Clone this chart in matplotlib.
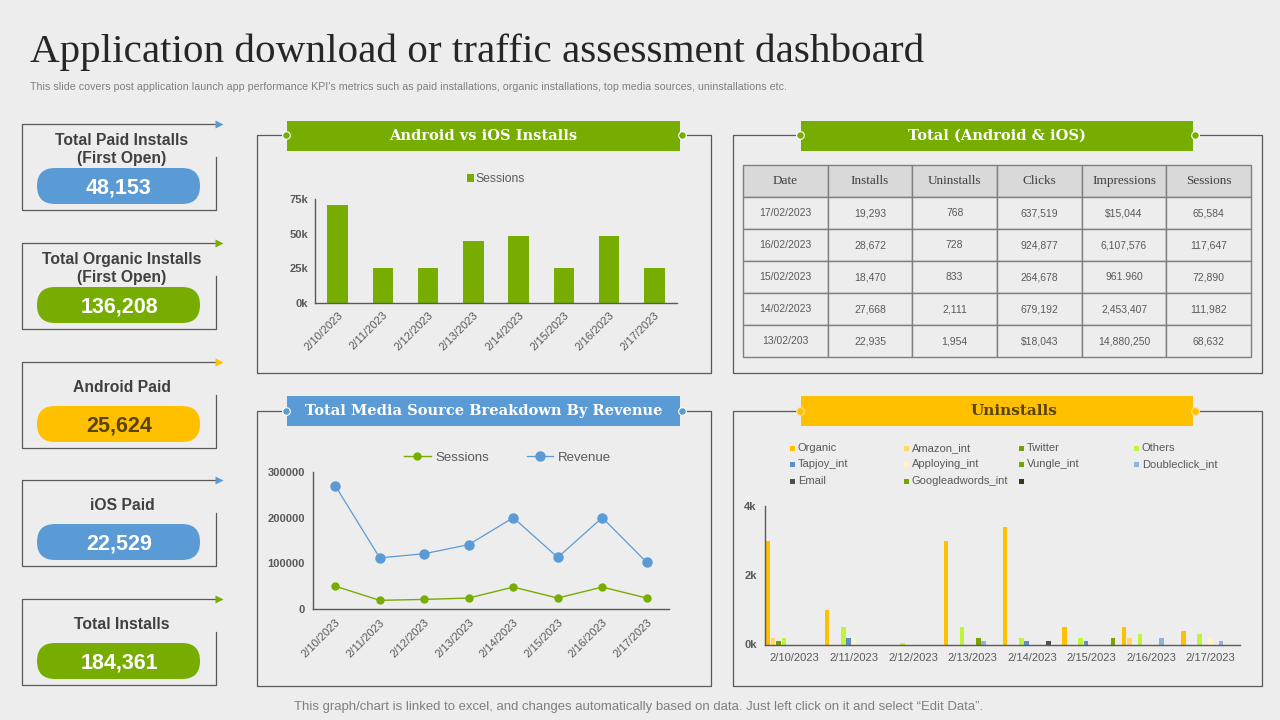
#!/usr/local/bin
# Application download / traffic dashboard slide, laid out in pixel positions

import matplotlib
matplotlib.use('Agg')
import matplotlib.pyplot as plt
from matplotlib.patches import FancyBboxPatch, Rectangle
import numpy as np

# Data
dates = ['2/10/2023', '2/11/2023', '2/12/2023', '2/13/2023', '2/14/2023', '2/15/2023', '2/16/2023', '2/17/2023']

installs_sessions = [71000, 25000, 25000, 45000, 48000, 25000, 48000, 25000]

line_sessions = [50000, 19000, 21000, 24000, 48000, 24000, 48000, 24000]
line_revenue = [270000, 112000, 121000, 141000, 200000, 113000, 200000, 102000]

organic = [3000, 1000, 0, 3000, 3400, 500, 500, 400]
amazon_int = [200, 0, 0, 0, 0, 0, 200, 0]
twitter = [100, 0, 0, 0, 0, 0, 0, 0]
others = [200, 500, 50, 500, 200, 200, 300, 300]
tapjoy_int = [0, 200, 0, 0, 100, 100, 0, 0]
apploying_int = [0, 200, 0, 0, 0, 0, 0, 200]
vungle_int = [0, 0, 0, 200, 0, 0, 0, 0]
doubleclick_int = [0, 0, 0, 100, 0, 0, 200, 100]
email = [0, 0, 0, 0, 100, 0, 0, 0]
googleadwords_int = [0, 0, 0, 0, 0, 200, 0, 0]
unnamed = [0, 0, 0, 0, 0, 0, 0, 0]

table_header = ['Date', 'Installs', 'Uninstalls', 'Clicks', 'Impressions', 'Sessions']
table_rows = [
    ['17/02/2023', '19,293', '768', '637,519', '$15,044', '65,584'],
    ['16/02/2023', '28,672', '728', '924,877', '6,107,576', '117,647'],
    ['15/02/2023', '18,470', '833', '264,678', '961.960', '72,890'],
    ['14/02/2023', '27,668', '2,111', '679,192', '2,453,407', '111,982'],
    ['13/02/203', '22,935', '1,954', '$18,043', '14,880,250', '68,632'],
]

kpi_labels = ['Total Paid Installs\n(First Open)', 'Total Organic Installs\n(First Open)', 'Android Paid', 'iOS Paid', 'Total Installs']
kpi_values = ['48,153', '136,208', '25,624', '22,529', '184,361']

# Colours and fonts
W, H = 1280, 720
BG = '#EDEDED'
GREEN = '#76AD00'
BLUE = '#5B9BD5'
YELLOW = '#FFC000'
DARK = '#595959'
TEXT = '#404040'
SERIF = 'DejaVu Serif'
SANS = 'Liberation Sans'

plt.rcParams['font.family'] = SANS

uninstall_series = [
    ('Organic', organic, '#FFC000'),
    ('Amazon_int', amazon_int, '#FFD966'),
    ('Twitter', twitter, '#6F9E0E'),
    ('Others', others, '#BFF43C'),
    ('Tapjoy_int', tapjoy_int, '#5B8FC5'),
    ('Apploying_int', apploying_int, '#FFF2CC'),
    ('Vungle_int', vungle_int, '#76A500'),
    ('Doubleclick_int', doubleclick_int, '#8FB4DC'),
    ('Email', email, '#505050'),
    ('Googleadwords_int', googleadwords_int, '#76A500'),
    ('', unnamed, '#2E3A1E'),
]

fig = plt.figure(figsize=(W / 100, H / 100), dpi=100, facecolor=BG)

# Overlay in pixel coordinates for the slide furniture
bg = fig.add_axes([0, 0, 1, 1], zorder=0)
bg.set_xlim(0, W)
bg.set_ylim(H, 0)
bg.axis('off')


# Make a chart axes from pixel edges
def px_axes(x0, y0, x1, y1):
    ax = fig.add_axes([x0 / W, 1 - y1 / H, (x1 - x0) / W, (y1 - y0) / H], zorder=2)
    ax.patch.set_alpha(0)
    for side in ['top', 'right']:
        ax.spines[side].set_visible(False)
    for side in ['left', 'bottom']:
        ax.spines[side].set_color(DARK)
        ax.spines[side].set_linewidth(1)
    return ax


# Frame with a banner breaking into the top edge
def panel(x0, y0, x1, y1, bx0, bx1, banner_top, color, title, title_color='white', size=10.5, title_x=None):
    if title_x is None:
        title_x = (bx0 + bx1) / 2
    bg.plot([bx0 - 4, x0, x0, x1, x1, bx1 + 4], [y0, y0, y1, y1, y0, y0], color=DARK, lw=0.9, zorder=1)
    bg.add_patch(Rectangle((bx0, banner_top), bx1 - bx0, 30, facecolor=color, edgecolor='none', zorder=2))
    for cx in [bx0 - 1, bx1 + 2]:
        bg.plot([cx], [y0], marker='o', ms=5.5, mfc=color, mec='white' if color != YELLOW else '#FFE08A', mew=0.8, zorder=3)
    bg.text(title_x, banner_top + 13.5, title, color=title_color, fontsize=size, fontweight='bold',
            family=SERIF, ha='center', va='center_baseline', zorder=4)


# Heading
bg.text(30, 52, 'Application download or traffic assessment dashboard', fontsize=29.6,
        family='Liberation Serif', color='#262626', ha='left', va='center')
bg.text(30, 87, "This slide covers post application launch app performance KPI's metrics such as paid installations, "
        "organic installations, top media sources, uninstallations etc.", fontsize=7.68, color='#7F7F7F',
        ha='left', va='center')
bg.text(639, 707, 'This graph/chart is linked to excel, and changes automatically based on data. '
        'Just left click on it and select \u201cEdit Data\u201d.', fontsize=9.45, color='#7F7F7F',
        ha='center', va='center')

# KPI cards
kpi_tops = [124, 243, 362, 480, 599]
kpi_colors = [BLUE, GREEN, YELLOW, BLUE, GREEN]
kpi_text = ['white', 'white', '#5A4300', 'white', 'white']
for i in range(5):
    top = kpi_tops[i]
    bottom = top + 86
    bg.plot([216, 216, 22, 22, 216], [top + 33, bottom, bottom, top, top], color=DARK, lw=0.9, zorder=1)
    bg.plot([219], [top], marker='>', ms=6, color=kpi_colors[i], mec='none', zorder=2)
    pill = FancyBboxPatch((37 + 18, top + 44 + 18), 163 - 36, 0, boxstyle='round,pad=18,rounding_size=18',
                          facecolor=kpi_colors[i], edgecolor='none', zorder=3)
    bg.add_patch(pill)
    bg.text(122, top + 25.5, kpi_labels[i], fontsize=11.3, fontweight='bold', color=TEXT, ha='center',
            va='center', linespacing=1.2, zorder=2)
    bg.text(119, top + 64, kpi_values[i], fontsize=15.5, fontweight='bold', color=kpi_text[i],
            ha='center', va='center', zorder=4)

# Panels
panel(257, 135, 711, 373, 287, 680, 121, GREEN, 'Android vs iOS Installs')
panel(733, 135, 1262, 373, 801, 1193, 121, GREEN, 'Total (Android & iOS)')
panel(257, 411, 711, 686, 287, 680, 396, BLUE, 'Total Media Source Breakdown By Revenue', size=10.55)
panel(733, 411, 1262, 686, 801, 1193, 396, YELLOW, 'Uninstalls', title_color='#5A4300', size=11, title_x=1014)

# Android vs iOS bars
ax1 = px_axes(315, 199, 677, 303)
x = np.arange(len(dates))
ax1.bar(x, installs_sessions, width=0.45, color=GREEN, label='Sessions')
ax1.set_xlim(-0.5, 7.5)
ax1.set_ylim(0, 75000)
ax1.set_yticks([0, 25000, 50000, 75000])
ax1.set_yticklabels(['0k', '25k', '50k', '75k'], fontsize=8, fontweight='bold', color=DARK)
ax1.set_xticks(x)
ax1.set_xticklabels(dates, rotation=45, ha='right', rotation_mode='anchor', fontsize=8, color=DARK)
ax1.tick_params(length=0, pad=5)
ax1.legend(loc='center', bbox_to_anchor=(0.5, 1.19), frameon=False, fontsize=8.7, labelcolor=DARK,
           handlelength=0.6, handleheight=0.6, handletextpad=0.1)

# Total table
tb_ax = fig.add_axes([743 / W, 1 - 357 / H, 508 / W, 192 / H], zorder=2)
tb_ax.axis('off')
tb = tb_ax.table(cellText=[table_header] + table_rows, bbox=[0, 0, 1, 1], cellLoc='center')
tb.auto_set_font_size(False)
for (r, c), cell in tb.get_celld().items():
    cell.set_edgecolor('#7F7F7F')
    cell.set_linewidth(1.0)
    if r == 0:
        cell.set_facecolor('#D9D9D9')
        cell.get_text().set_family('Liberation Serif')
        cell.get_text().set_fontsize(9.5)
        cell.get_text().set_color(TEXT)
    else:
        cell.set_facecolor(BG)
        cell.get_text().set_fontsize(7.5)
        cell.get_text().set_color(DARK)

# Media source lines
ax2 = px_axes(313, 472, 669, 609)
ax2.plot(x, line_sessions, color=GREEN, lw=1, marker='o', ms=5, label='Sessions')
ax2.plot(x, line_revenue, color=BLUE, lw=0.9, marker='o', ms=6.5, label='Revenue')
ax2.set_xlim(-0.5, 7.5)
ax2.set_ylim(0, 300000)
ax2.set_yticks([0, 100000, 200000, 300000])
ax2.set_yticklabels(['0', '100000', '200000', '300000'], fontsize=8, fontweight='bold', color=DARK)
ax2.set_xticks(x)
ax2.set_xticklabels(dates, rotation=45, ha='right', rotation_mode='anchor', fontsize=8, color=DARK)
ax2.tick_params(length=0, pad=6)
ax2.legend(loc='center', bbox_to_anchor=(0.547, 1.105), frameon=False, fontsize=9.5, labelcolor=DARK, ncols=2,
           handlelength=2.0, columnspacing=2.8, handletextpad=0.4)

# Uninstalls grouped bars
ax3 = px_axes(765, 506, 1240, 644.5)
step = 1 / len(uninstall_series)
for i, (name, vals, color) in enumerate(uninstall_series):
    ax3.bar(x + (i - 5) * step, vals, width=step * 0.85, color=color)
ax3.set_xlim(-0.5, 7.5)
ax3.set_ylim(0, 4000)
ax3.set_yticks([0, 2000, 4000])
ax3.set_yticklabels(['0k', '2k', '4k'], fontsize=8, fontweight='bold', color=DARK)
ax3.set_xticks(x)
ax3.set_xticklabels(dates, fontsize=8, color=DARK)
ax3.tick_params(length=0, pad=6)

# Uninstalls legend, four columns
legend_x = [792, 906, 1021, 1136]
legend_y = [448, 464, 481]
for i, (name, vals, color) in enumerate(uninstall_series):
    lx = legend_x[i % 4]
    ly = legend_y[i // 4]
    bg.add_patch(Rectangle((lx - 2.5, ly - 2.5), 5, 5, facecolor=color, edgecolor='none', zorder=3))
    bg.text(lx + 6, ly, name, fontsize=8, color=DARK, ha='left', va='center', zorder=3)

plt.savefig('out.png', dpi=100, facecolor=BG)
